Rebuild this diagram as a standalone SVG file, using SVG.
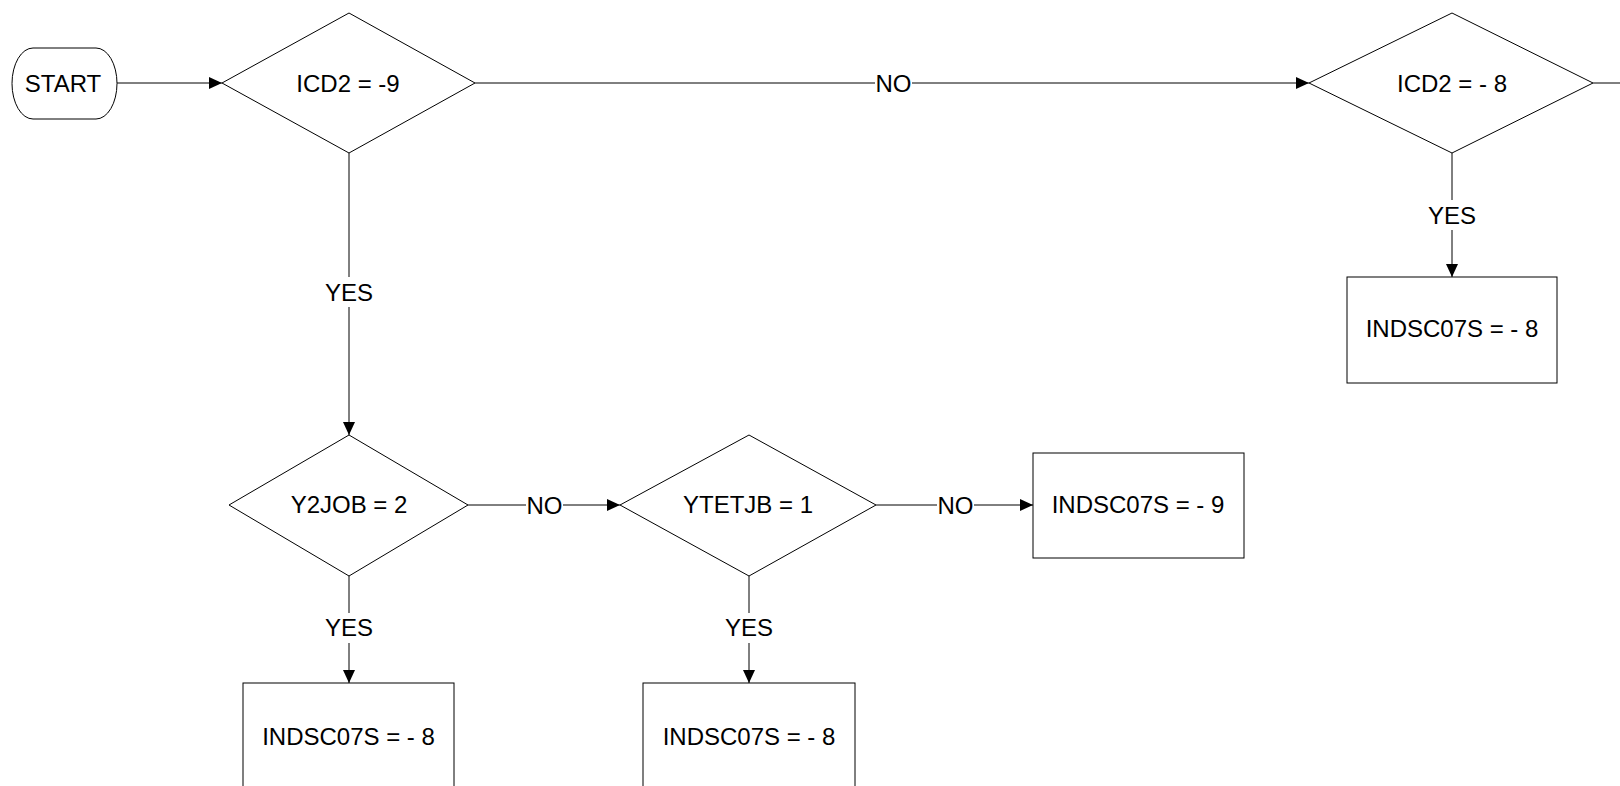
<svg xmlns="http://www.w3.org/2000/svg" width="1620" height="786" viewBox="0 0 1620 786">
<defs>
<marker id="arr" markerWidth="13" markerHeight="12" refX="13" refY="6" orient="auto" markerUnits="userSpaceOnUse">
<path d="M0,0 L13,6 L0,12 Z" fill="#000"/>
</marker>
<style>
.s{fill:#fff;stroke:#000;stroke-width:1}
.t{font-family:"Liberation Sans",Arial,sans-serif;font-size:24px;fill:#000;text-anchor:middle}
.c{stroke:#000;stroke-width:1;fill:none}
.bg{fill:#fff}
</style>
</defs>
<rect width="1620" height="786" fill="#fff"/>
<g id="connectors">
<line class="c" x1="117" y1="83" x2="222" y2="83" marker-end="url(#arr)"/>
<line class="c" x1="475" y1="83" x2="1309" y2="83" marker-end="url(#arr)"/>
<line class="c" x1="1593" y1="83" x2="1620" y2="83"/>
<line class="c" x1="349" y1="153" x2="349" y2="435" marker-end="url(#arr)"/>
<line class="c" x1="1452" y1="153" x2="1452" y2="277" marker-end="url(#arr)"/>
<line class="c" x1="468" y1="505" x2="620" y2="505" marker-end="url(#arr)"/>
<line class="c" x1="876" y1="505" x2="1033" y2="505" marker-end="url(#arr)"/>
<line class="c" x1="349" y1="576" x2="349" y2="683" marker-end="url(#arr)"/>
<line class="c" x1="749" y1="576" x2="749" y2="683" marker-end="url(#arr)"/>
<rect class="bg" x="875" y="70" width="37" height="26"/>
<text class="t" x="893.5" y="92">NO</text>
<rect class="bg" x="322" y="277" width="54" height="30"/>
<text class="t" x="349" y="301">YES</text>
<rect class="bg" x="1425" y="200" width="54" height="30"/>
<text class="t" x="1452" y="224">YES</text>
<rect class="bg" x="526" y="492" width="37" height="26"/>
<text class="t" x="544.5" y="514">NO</text>
<rect class="bg" x="937" y="492" width="37" height="26"/>
<text class="t" x="955.5" y="514">NO</text>
<rect class="bg" x="322" y="613" width="54" height="30"/>
<text class="t" x="349" y="636">YES</text>
<rect class="bg" x="722" y="613" width="54" height="30"/>
<text class="t" x="749" y="636">YES</text>
</g>
<g id="start">
<rect class="s" x="12" y="48" width="105" height="71" rx="21" ry="35.5"/>
<text class="t" x="63" y="92">START</text>
</g>
<g id="d_icd2_9">
<polygon class="s" points="349,13 475,83 349,153 222,83"/>
<text class="t" x="348" y="92">ICD2 = -9</text>
</g>
<g id="d_icd2_8">
<polygon class="s" points="1452,13 1593,83 1452,153 1309,83"/>
<text class="t" x="1452" y="92">ICD2 = - 8</text>
</g>
<g id="b_top_right">
<rect class="s" x="1347" y="277" width="210" height="106"/>
<text class="t" x="1452" y="337">INDSC07S = - 8</text>
</g>
<g id="d_y2job">
<polygon class="s" points="349,435 468,505 349,576 229,505"/>
<text class="t" x="349" y="513">Y2JOB = 2</text>
</g>
<g id="d_ytetjb">
<polygon class="s" points="749,435 876,505 749,576 620,505"/>
<text class="t" x="748" y="513">YTETJB = 1</text>
</g>
<g id="b_mid_right">
<rect class="s" x="1033" y="453" width="211" height="105"/>
<text class="t" x="1138" y="513">INDSC07S = - 9</text>
</g>
<g id="b_bottom_left">
<rect class="s" x="243" y="683" width="211" height="106"/>
<text class="t" x="348.5" y="745">INDSC07S = - 8</text>
</g>
<g id="b_bottom_mid">
<rect class="s" x="643" y="683" width="212" height="106"/>
<text class="t" x="749" y="745">INDSC07S = - 8</text>
</g>
</svg>
